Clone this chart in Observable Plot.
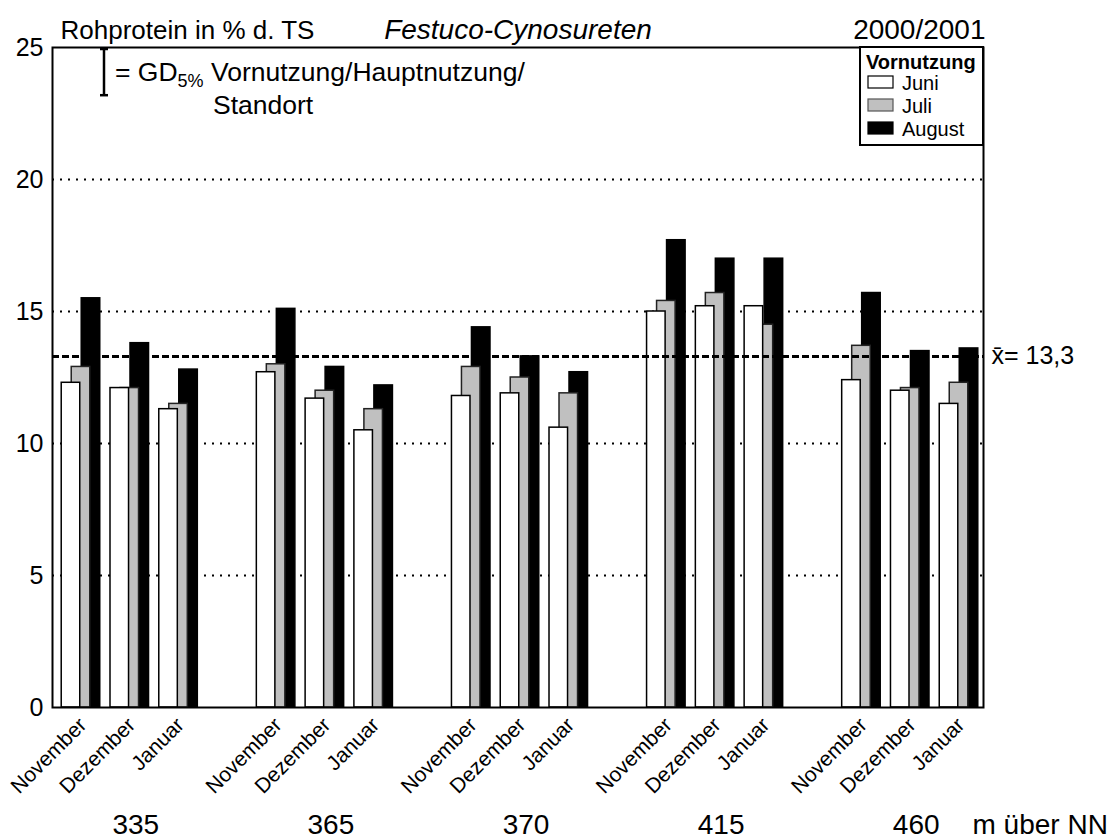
<!DOCTYPE html>
<html>
<head>
<meta charset="utf-8">
<script src="https://cdn.jsdelivr.net/npm/d3@7"></script>
<script src="https://cdn.jsdelivr.net/npm/@observablehq/plot@0.6"></script>
<style>
  html, body { margin: 0; padding: 0; background: #fff; }
  #chart { width: 1112px; height: 839px; }
  svg { font-family: "Liberation Sans", Arial, sans-serif; }
</style>
</head>
<body>
<div id="chart"></div>
<script>
// ---- data ----
const altitudes = ["335", "365", "370", "415", "460"];
const months = ["November", "Dezember", "Januar"];
const seriesNames = ["Juni", "Juli", "August"];
const juni   = [12.3, 12.1, 11.3,  12.7, 11.7, 10.5,  11.8, 11.9, 10.6,  15.0, 15.2, 15.2,  12.4, 12.0, 11.5];
const juli   = [12.9, 12.1, 11.5,  13.0, 12.0, 11.3,  12.9, 12.5, 11.9,  15.4, 15.7, 14.5,  13.7, 12.1, 12.3];
const august = [15.5, 13.8, 12.8,  15.1, 12.9, 12.2,  14.4, 13.3, 12.7,  17.7, 17.0, 17.0,  15.7, 13.5, 13.6];
const meanValue = 13.3;
const gdValue = 1.75;
const yTicks = [0, 5, 10, 15, 20, 25];
const gridValues = [5, 10, 15, 20];
const titleLeft = "Rohprotein in % d. TS";
const titleCenter = "Festuco-Cynosureten";
const titleRight = "2000/2001";
const altUnit = "m über NN";
const legendTitle = "Vornutzung";

// ---- derived tables ----
const slots = [];
altitudes.forEach((a, i) => {
  if (i > 0) slots.push("gap" + i);
  months.forEach(m => slots.push(a + " " + m));
});
const toRows = (arr, s) => altitudes.flatMap((a, i) =>
  months.map((m, j) => ({slot: a + " " + m, alt: a, month: m, series: s, value: arr[i * 3 + j]})));
const rowsJuni = toRows(juni, seriesNames[0]);
const rowsJuli = toRows(juli, seriesNames[1]);
const rowsAug = toRows(august, seriesNames[2]);
const fills = {Juni: "#ffffff", Juli: "#c0c0c0", August: "#000000"};

const W = 1112, H = 839;
const mL = 52, mR = 129, mT = 47, mB = 132;

const plot = Plot.plot({
  width: W,
  height: H,
  marginLeft: mL,
  marginRight: mR,
  marginTop: mT,
  marginBottom: mB,
  style: {fontFamily: '"Liberation Sans", Arial, sans-serif', color: "#000", background: "#fff", overflow: "visible"},
  x: {type: "band", domain: slots, paddingInner: 0.62, paddingOuter: 0.353, round: false, axis: null},
  y: {domain: [0, 25], axis: null},
  marks: [
    Plot.ruleY(gridValues, {stroke: "#000", strokeWidth: 2, strokeDasharray: "2,6"}),
    Plot.barY(rowsAug, {x: "slot", y: "value", fill: fills.August, stroke: "#000", strokeWidth: 1.5, dx: 12}),
    Plot.barY(rowsJuli, {x: "slot", y: "value", fill: fills.Juli, stroke: "#222", strokeWidth: 1.5, dx: 2}),
    Plot.barY(rowsJuni, {x: "slot", y: "value", fill: fills.Juni, stroke: "#000", strokeWidth: 1.5, dx: -8}),
    Plot.ruleY([meanValue], {stroke: "#000", strokeWidth: 3, strokeDasharray: "7,3"}),
    Plot.text([meanValue], {y: d => d, frameAnchor: "right", textAnchor: "start", lineAnchor: "middle", dx: 8,
      text: d => "x\u0304= " + String(d).replace(".", ","), fontSize: 25, fill: "#000"}),
    Plot.frame({stroke: "#000", strokeWidth: 2}),
    Plot.axisY({ticks: yTicks, tickSize: 0, tickPadding: 9, fontSize: 25, fill: "#000", label: null}),
    Plot.text(rowsJuni, {x: "slot", y: 0, text: "month", rotate: -45, textAnchor: "end", lineAnchor: "middle",
      dx: 4, dy: 14, fontSize: 21, fill: "#000"}),
    Plot.text(altitudes, {x: a => a + " " + months[1], y: 0, text: d => d, dx: 8, dy: 118, lineAnchor: "middle",
      fontSize: 28, fill: "#000"}),
    Plot.text([altUnit], {frameAnchor: "bottom-right", textAnchor: "start", lineAnchor: "middle", dx: -11, dy: 118,
      fontSize: 28, fill: "#000"}),
    Plot.text([titleLeft], {frameAnchor: "top-left", textAnchor: "start", lineAnchor: "middle", dx: 8, dy: -17,
      fontSize: 26, fill: "#000"}),
    Plot.text([titleCenter], {frameAnchor: "top", lineAnchor: "middle", dy: -17, fontSize: 28, fontStyle: "italic", fill: "#000"}),
    Plot.text([titleRight], {frameAnchor: "top-right", textAnchor: "end", lineAnchor: "middle", dx: 2, dy: -17,
      fontSize: 28, fill: "#000"})
  ]
});

document.getElementById("chart").appendChild(plot);

// ---- annotations: GD bar and legend ----
const svg = d3.select(plot);
const yS = plot.scale("y");
const gx = 104;
const gTop = yS.apply(25) + 2;
const gBot = gTop + (yS.apply(0) - yS.apply(gdValue));
const g = svg.append("g").attr("stroke", "#000").attr("stroke-width", 2.5);
g.append("line").attr("x1", gx).attr("x2", gx).attr("y1", gTop).attr("y2", gBot);
g.append("line").attr("x1", gx - 4).attr("x2", gx + 4).attr("y1", gTop).attr("y2", gTop);
g.append("line").attr("x1", gx - 4).attr("x2", gx + 4).attr("y1", gBot).attr("y2", gBot);

const ann = svg.append("g").attr("text-anchor", "start").attr("fill", "#000");
const t1 = ann.append("text").attr("x", 115).attr("y", 81).attr("font-size", 26.5);
t1.append("tspan").text("= GD");
t1.append("tspan").attr("font-size", 18).attr("dy", 6).text("5%");
t1.append("tspan").attr("dy", -6).text(" Vornutzung/Hauptnutzung/");
ann.append("text").attr("x", 213).attr("y", 114).attr("font-size", 26.5).text("Standort");

// legend box
const lx = 860, ly = mT, lw = (W - mR) - 860, lh = 98;
const lg = svg.append("g").attr("text-anchor", "start");
lg.append("rect").attr("x", lx).attr("y", ly).attr("width", lw).attr("height", lh)
  .attr("fill", "#fff").attr("stroke", "#000").attr("stroke-width", 2);
lg.append("text").attr("x", 866).attr("y", 69).attr("font-size", 20).attr("font-weight", "bold")
  .attr("fill", "#000").text(legendTitle);
seriesNames.forEach((s, i) => {
  const yy = 76 + i * 23;
  lg.append("rect").attr("x", 868).attr("y", yy).attr("width", 25).attr("height", 12)
    .attr("fill", fills[s]).attr("stroke", s === "Juli" ? "#555" : "#000").attr("stroke-width", 1.2);
  lg.append("text").attr("x", 902).attr("y", yy + 14).attr("font-size", 20).attr("fill", "#000").text(s);
});
</script>
</body>
</html>
